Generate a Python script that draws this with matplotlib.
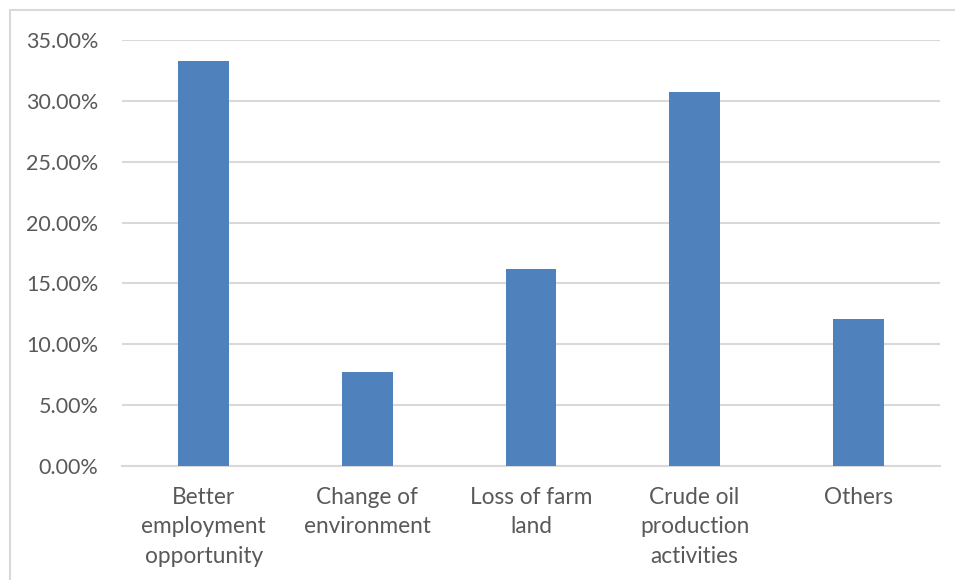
import matplotlib
matplotlib.use("Agg")
import matplotlib.pyplot as plt
from matplotlib.patches import Rectangle
from matplotlib.ticker import FuncFormatter

categories = ["Better\nemployment\nopportunity", "Change of\nenvironment", "Loss of farm\nland",
              "Crude oil\nproduction\nactivities", "Others"]
values = [33.3, 7.7, 16.2, 30.7, 12.1]
yticks = [0, 5, 10, 15, 20, 25, 30, 35]

plt.rcParams['font.family'] = ['Lato', 'DejaVu Sans']
text_color = '#595959'
grid_color = '#d9d9d9'
bar_color = '#4f81bd'

fig = plt.figure(figsize=(9.55, 5.8), dpi=100)
W, H = 955, 580
ax = fig.add_axes([122 / W, 1 - 466 / H, (940 - 122) / W, (466 - 40) / H])

x = range(len(categories))
ax.bar(x, values, width=0.31, color=bar_color, zorder=3)
ax.set_xlim(-0.5, len(categories) - 0.5)
ax.set_ylim(0, 35)
ax.set_yticks(yticks)
ax.yaxis.set_major_formatter(FuncFormatter(lambda v, p: f"{v:.2f}%"))
ax.set_xticks(list(x))
ax.set_xticklabels(categories, linespacing=1.5)
ax.tick_params(axis='y', length=0, pad=17, labelsize=15.5, labelcolor=text_color)
ax.tick_params(axis='x', length=0, pad=15, labelsize=16.3, labelcolor=text_color)
ax.grid(axis='y', color=grid_color, linewidth=1.5, zorder=0)
for s in ['top', 'right', 'left']:
    ax.spines[s].set_visible(False)
ax.spines['bottom'].set_color(grid_color)
ax.spines['bottom'].set_linewidth(1.5)

fig.patches.append(Rectangle((10 / W, -0.1), 1.2, 1 - 10 / H + 0.1, transform=fig.transFigure,
                             fill=False, edgecolor='#d9d9d9', linewidth=1.5, zorder=0))

fig.savefig("out.png", dpi=100)
